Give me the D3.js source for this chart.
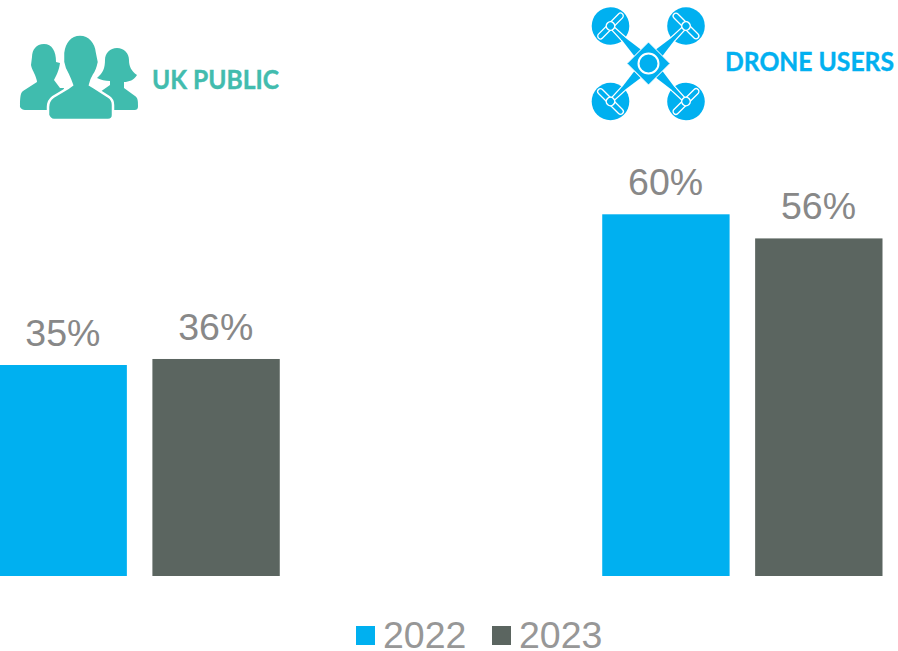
<!DOCTYPE html>
<meta charset="utf-8">
<title>UK public and drone users</title>
<style>
html, body { margin: 0; padding: 0; background: #fff; overflow: hidden; }
svg { display: block; }
text { opacity: 0.99; }
.value, .legend text { font-family: "Liberation Sans", Arial, sans-serif; font-size: 37.5px; }
.value { fill: #878787; text-anchor: middle; }
.legend text { fill: #969696; }
.heading { font-family: Lato, sans-serif; font-weight: 700; stroke-width: 0.4; }
</style>
<body>
<svg id="chart" width="898" height="651"></svg>
<script src="https://d3js.org/d3.v7.min.js"></script>
<script>
var groups = ["UK PUBLIC", "DRONE USERS"];
var years = ["2022", "2023"];
var values2022 = [35, 60];
var values2023 = [36, 56];
var colors = ["#00b0f0", "#5b6560"];

var width = 898, height = 651, baseline = 576;
var svg = d3.select("#chart");

var x0 = d3.scaleBand().domain(groups).range([-0.5, 882.5]).paddingInner(0.535).paddingOuter(0);
var x1 = d3.scaleBand().domain(years).range([0, x0.bandwidth()]).paddingInner(0.167).paddingOuter(0);
var y = d3.scaleLinear().domain([0, 60]).range([baseline, 214.3]);
var color = d3.scaleOrdinal().domain(years).range(colors);

var rows = [];
groups.forEach(function(g, i) {
  rows.push({group: g, year: "2022", value: values2022[i]});
  rows.push({group: g, year: "2023", value: values2023[i]});
});

svg.selectAll(".bar")
    .data(rows)
  .enter().append("rect")
    .attr("class", "bar")
    .attr("x", function(d) { return x0(d.group) + x1(d.year); })
    .attr("y", function(d) { return y(d.value); })
    .attr("width", x1.bandwidth())
    .attr("height", function(d) { return baseline - y(d.value); })
    .style("fill", function(d) { return color(d.year); });

svg.selectAll(".value")
    .data(rows)
  .enter().append("text")
    .attr("class", "value")
    .attr("x", function(d) { return x0(d.group) + x1(d.year) + x1.bandwidth() / 2 - 0.3; })
    .attr("y", function(d) { return y(d.value) - 19; })
    .text(function(d) { return d.value + "%"; });

// legend
var legendX = [356, 492];
var legend = svg.selectAll(".legend")
    .data(years)
  .enter().append("g")
    .attr("class", "legend")
    .attr("transform", function(d, i) { return "translate(" + legendX[i] + ",626)"; });

legend.append("rect")
    .attr("width", 19)
    .attr("height", 19)
    .style("fill", color);

legend.append("text")
    .attr("x", 27)
    .attr("y", 22)
    .text(function(d) { return d; });

// headings
svg.append("text")
    .attr("class", "heading")
    .attr("x", 152)
    .attr("y", 89)
    .attr("font-size", 27)
    .attr("textLength", 127)
    .attr("lengthAdjust", "spacingAndGlyphs")
    .style("fill", "#40bcae")
    .style("stroke", "#40bcae")
    .text(groups[0]);

svg.append("text")
    .attr("class", "heading")
    .attr("x", 725)
    .attr("y", 71)
    .attr("font-size", 27)
    .attr("textLength", 169)
    .attr("lengthAdjust", "spacingAndGlyphs")
    .style("fill", "#00b0f0")
    .style("stroke", "#00b0f0")
    .text(groups[1]);

// people icon
var people = svg.append("g").attr("fill", "#40bcae");
people.append("path").attr("d", "M44 44C36 44 32 50 32 57L31 65C32 70 34 72 35 75C36 78 37 80 37 82L23 91C20 93 20 100 20 107C21 109 23 110 25 110H60L64 88H60L54 80C56 76 59 71 60 63L56 62C56 51 52 44 44 44Z");
people.append("path").attr("d", "M117 48C110 48 105 53 105 60C105 68 103 73 97 78C101 80 105 81 110 81V85L100 92L110 110H134C137 110 138 109 138 106C138 101 138 98 135 96L124 88V82C129 82 134 80 137 75C131 71 129 66 129 60C129 53 124 48 117 48Z");
people.append("path")
    .attr("stroke", "#fff")
    .attr("stroke-width", 2.5)
    .attr("d", "M80 34.5C70 34.5 64 43 63 53L63 62C64 68 66 72 68 75C70 79 71 82 72 85L68 88L53 97C49 100 48 103 48 107L48 115C49 118 51 120 54 120H108C111 120 113 118 113 115V105C113 101 112 99 109 97L95 88L90 85C91 81 92 78 94 75C97 71 98 67 99 62L97 52C96 43 90 34.5 80 34.5Z");

// drone icon
var drone = svg.append("g").attr("fill", "#00b0f0");
var cx = 648.5, cy = 63.5;
var rotors = [
  {x: 610.5, y: 26},
  {x: 686, y: 26},
  {x: 610.5, y: 101.5},
  {x: 686, y: 101.5}
];

rotors.forEach(function(r) {
  var a = Math.atan2(cy - r.y, cx - r.x) * 180 / Math.PI;
  var g = drone.append("g").attr("transform", "translate(" + r.x + "," + r.y + ") rotate(" + a + ")");
  g.append("circle").attr("r", 18.8);
  // arm, thin at the hub and wide at the body
  g.append("path").attr("d", "M0 -1.8L18.8 -2.6V2.6L0 1.8Z").attr("stroke", "#fff").attr("stroke-width", 1.2);
  g.append("path").attr("d", "M16 -1.6L38 -4.6V4.6L16 1.6Z");
  // propeller
  g.append("rect")
      .attr("x", -2.8).attr("y", -17).attr("width", 5.6).attr("height", 34).attr("rx", 2.8)
      .attr("fill", "#00b0f0").attr("stroke", "#fff").attr("stroke-width", 1.3);
  g.append("circle").attr("r", 4.2).attr("fill", "#00b0f0").attr("stroke", "#fff").attr("stroke-width", 1.5);
});

drone.append("path")
    .attr("stroke", "#fff")
    .attr("stroke-width", 1)
    .attr("d", "M" + cx + " " + (cy - 21.5) + "L" + (cx + 21.5) + " " + cy + "L" + cx + " " + (cy + 21.5) + "L" + (cx - 21.5) + " " + cy + "Z");
drone.append("circle").attr("cx", cx).attr("cy", cy).attr("r", 10)
    .attr("fill", "#00b0f0").attr("stroke", "#fff").attr("stroke-width", 2);
</script>
</body>
